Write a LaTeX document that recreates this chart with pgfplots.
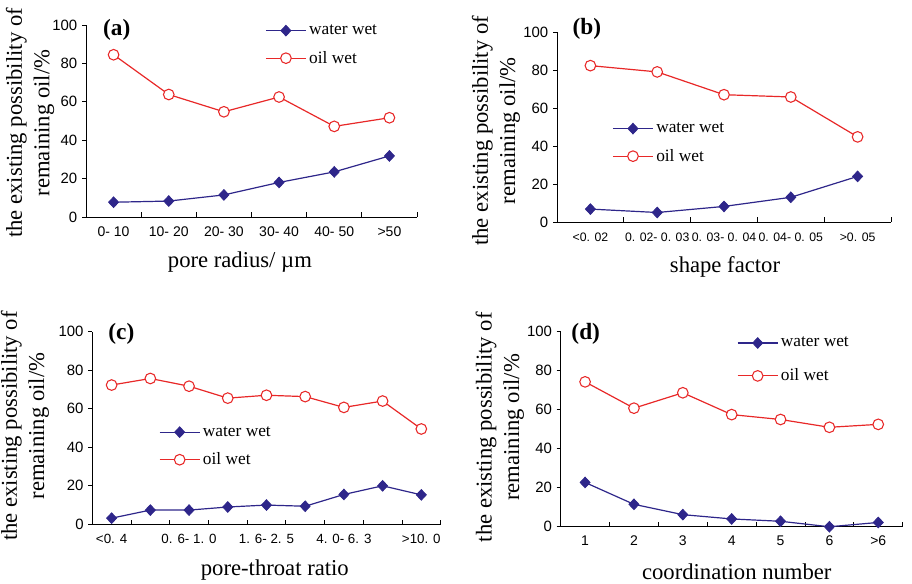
\documentclass[border=0pt]{standalone}
\usepackage{fontspec}
\setmainfont{Liberation Serif}
\setsansfont{Liberation Sans}
\usepackage{pgfplots}
\pgfplotsset{compat=1.18}
\definecolor{wwBlue}{RGB}{46,38,138}
\definecolor{owRed}{RGB}{232,40,40}

\pgfplotsset{
  panel/.style={
    scale only axis, anchor=south west,
    axis x line*=bottom, axis y line*=left,
    axis line style={-, black, line width=0.6pt},
    ymin=0, ymax=100, ytick={0,20,...,100},
    ytick align=outside, xtick align=inside,
    xtick=data, major x tick style={draw=none},
    minor tick length=3.5pt, major tick length=3pt,
    tick style={black, line width=0.6pt},
    yticklabel style={font=\sffamily\fontsize{11.2}{13}\selectfont},
    xticklabel style={font=\sffamily\fontsize{10.5}{12}\selectfont, yshift=-3.5pt},
    /pgf/number format/assume math mode=true,
    label style={font=\fontsize{17}{20.5}\selectfont},
    ylabel={the existing possibility of\\remaining oil/\%},
    ylabel style={align=center, anchor=center},
    xlabel style={anchor=center, inner sep=0pt},
    legend style={draw=none, fill=none, font=\fontsize{13}{15}\selectfont,
      anchor=west, row sep=7pt, inner sep=0pt},
    legend cell align=left,
    legend image code/.code={\draw[mark repeat=2,mark phase=2,##1] plot coordinates {(0pt,0pt) (15pt,0pt) (30pt,0pt)};},
    clip=false,
  },
  water/.style={color=wwBlue, line width=0.9pt, mark=diamond*,
    mark size=4pt, mark options={fill=wwBlue, xscale=1.25, line width=0.6pt}},
  oil/.style={color=owRed, line width=0.9pt, mark=*,
    mark size=4pt, mark options={fill=white, draw=owRed, line width=0.8pt}},
}
\tikzset{plabel/.style={anchor=west, inner sep=1.5pt, font=\bfseries\fontsize{17.5}{20}\selectfont}}

\begin{document}
\begin{tikzpicture}
\useasboundingbox (0,0) rectangle (684pt,437.25pt);

% (a) pore radius
\begin{axis}[panel,
  at={(64.5pt,274.5pt)}, width=248.25pt, height=144pt,
  xmin=-0.5, xmax=5.5, minor xtick={0.5,1.5,...,5.5},
  xticklabels={0- 10,10- 20,20- 30,30- 40,40- 50,>50},
  xlabel={pore radius/ µm},
  xlabel style={at={(axis description cs:0.465,-0.234)}},
  ylabel style={at={(axis description cs:-0.169,0.49)}},
  legend style={at={(axis description cs:0.541,0.896)}},
]
\addplot[water] coordinates {(0,7.7) (1,8.3) (2,11.5) (3,18) (4,23.5) (5,31.8)};
\addplot[oil] coordinates {(0,84.5) (1,63.8) (2,54.8) (3,62.5) (4,47.2) (5,51.7)};
\legend{water wet, oil wet}
\node[plabel] at (axis description cs:0.045,0.975) {(a)};
\end{axis}

% (b) shape factor
\begin{axis}[panel,
  at={(417.75pt,270.75pt)}, width=250.5pt, height=142.5pt,
  xmin=-0.5, xmax=4.5, minor xtick={0.5,1.5,...,4.5},
  xticklabels={<0. 02,0. 02- 0. 03,0. 03- 0. 04,0. 04- 0. 05,>0. 05},
  xticklabel style={font=\sffamily\fontsize{9.2}{11}\selectfont, yshift=-1pt},
  xlabel={shape factor},
  xlabel style={at={(axis description cs:0.503,-0.237)}},
  ylabel style={at={(axis description cs:-0.183,0.48)}},
  legend style={at={(axis description cs:0.165,0.416)}},
]
\addplot[water] coordinates {(0,6.8) (1,5) (2,8.2) (3,13) (4,24)};
\addplot[oil] coordinates {(0,82.3) (1,79) (2,67) (3,65.8) (4,44.8)};
\legend{water wet, oil wet}
\node[plabel] at (axis description cs:0.040,1.015) {(b)};
\end{axis}

% (c) pore-throat ratio
\begin{axis}[panel,
  at={(69.2pt,44pt)}, width=261.3pt, height=144.5pt,
  xmin=-0.5, xmax=8.5, minor xtick={0.5,1.5,...,8.5},
  xticklabels={<0. 4,,0. 6- 1. 0,,1. 6- 2. 5,,4. 0- 6. 3,,>10. 0},
  xticklabel style={font=\sffamily\fontsize{10}{12}\selectfont},
  xlabel={pore-throat ratio},
  xlabel style={at={(axis description cs:0.524,-0.238)}},
  ylabel style={at={(axis description cs:-0.193,0.51)}},
  legend style={at={(axis description cs:0.191,0.404)}},
]
\addplot[water] coordinates {(0,3.2) (1,7.4) (2,7.4) (3,9) (4,10) (5,9.4) (6,15.5) (7,20) (8,15.3)};
\addplot[oil] coordinates {(0,72.3) (1,75.7) (2,71.7) (3,65.5) (4,67) (5,66.3) (6,60.7) (7,64) (8,49.5)};
\legend{water wet, oil wet}
\node[plabel] at (axis description cs:0.040,0.99) {(c)};
\end{axis}

% (d) coordination number
\begin{axis}[panel,
  at={(420.5pt,42.2pt)}, width=256.5pt, height=146.25pt,
  xmin=-0.5, xmax=6.5, minor xtick={0.5,1.5,...,6.5},
  xticklabels={1,2,3,4,5,6,>6},
  xlabel={coordination number},
  xlabel style={at={(axis description cs:0.515,-0.232)}},
  ylabel style={at={(axis description cs:-0.178,0.51)}},
  legend style={at={(axis description cs:0.515,0.855)}, row sep=11pt},
]
\addplot[water] coordinates {(0,22.7) (1,11.5) (2,6.2) (3,4) (4,2.8) (5,0) (6,2.2)};
\addplot[oil] coordinates {(0,74.3) (1,60.8) (2,68.7) (3,57.5) (4,55) (5,51) (6,52.5)};
\legend{water wet, oil wet}
\node[plabel] at (axis description cs:0.025,0.99) {(d)};
\end{axis}
\end{tikzpicture}
\end{document}
